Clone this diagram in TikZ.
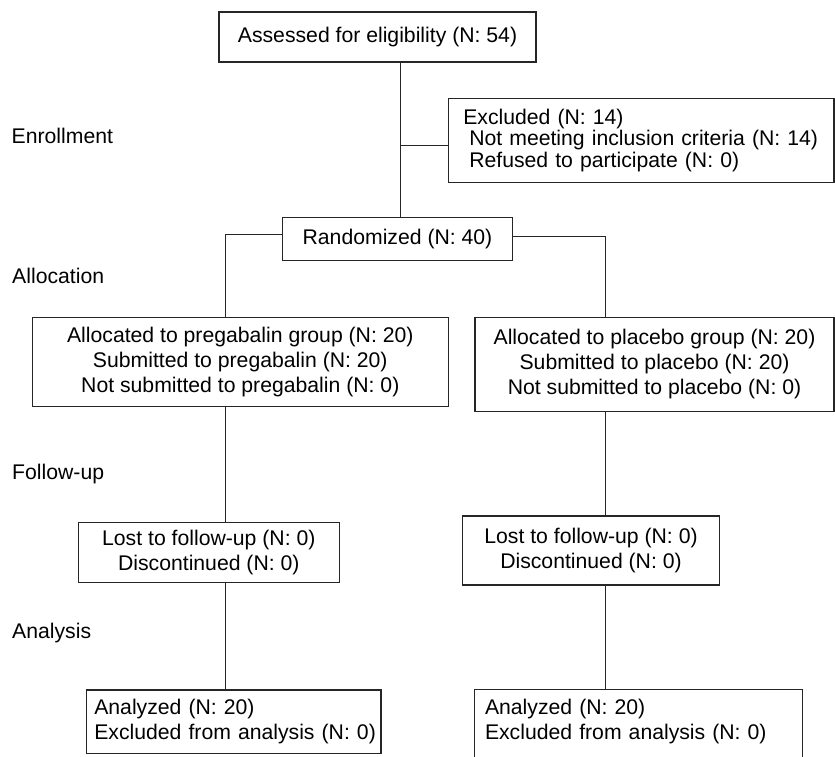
\documentclass[tikz,border=0pt]{standalone}
\usepackage{fontspec}
\setmainfont{Liberation Sans}
\begin{document}
\begin{tikzpicture}[x=1pt,y=-1pt,
  every node/.style={font=\fontsize{21.2}{25}\selectfont, text=black},
  cbox/.style={draw=black!85, line width=1.1pt, inner sep=0pt, align=center},
  lbox/.style={draw=black!85, line width=1.1pt, inner sep=0pt, align=left},
  stage/.style={anchor=west, inner sep=0pt},
  conn/.style={draw=black!85, line width=1pt}
]
\useasboundingbox (0,0) rectangle (835,756);

% stage labels
\node[stage] (enr) at (11.5,136) {Enrollment};
\node[stage] (alo) at (12,276) {Allocation};
\node[stage] (fol) at (12,474) {Follow-up};
\node[stage] (ana) at (12,632.7) {Analysis};

% boxes
\node[cbox, minimum width=317pt, minimum height=50pt] (assess) at (377.5,37) {Assessed for eligibility (N: 54)};
\node[lbox, font=\fontsize{21.2}{21.7}\selectfont, text width=385.7pt, minimum height=84.4pt] (excl) at (641.15,140.5)
  {\hspace*{15pt}Excluded (N: 14)\\\hspace*{21pt}Not meeting inclusion criteria (N: 14)\\\hspace*{21pt}Refused to participate (N: 0)};
\node[cbox, minimum width=230.4pt, minimum height=42.6pt] (rand) at (397.5,239) {Randomized (N: 40)};
\node[cbox, minimum width=416pt, minimum height=89.4pt] (allocL) at (240.3,362)
  {Allocated to pregabalin group (N: 20)\\Submitted to pregabalin (N: 20)\\Not submitted to pregabalin (N: 0)};
\node[cbox, minimum width=359pt, minimum height=94.4pt] (allocR) at (654.5,364.5)
  {Allocated to placebo group (N: 20)\\Submitted to placebo (N: 20)\\Not submitted to placebo (N: 0)};
\node[cbox, minimum width=261pt, minimum height=60pt] (lostL) at (208.8,552.3)
  {Lost to follow-up (N: 0)\\Discontinued (N: 0)};
\node[cbox, minimum width=256.6pt, minimum height=69pt] (lostR) at (591,550.5)
  {Lost to follow-up (N: 0)\\Discontinued (N: 0)};
\node[lbox, text width=294.3pt, minimum height=63.3pt] (anL) at (233.85,721.65)
  {\hspace*{7.6pt}Analyzed (N: 20)\\\hspace*{7.6pt}Excluded from analysis (N: 0)};
\node[lbox, draw=none, text width=326.7pt, minimum height=63.3pt] (anR) at (638.35,721.65)
  {\hspace*{10pt}Analyzed (N: 20)\\\hspace*{10pt}Excluded from analysis (N: 0)};
\draw[draw=black!85, line width=1.1pt] ([yshift=-15pt]anR.south west) -- (anR.north west) -- (anR.north east) -- ([yshift=-15pt]anR.south east);

% junction coordinates
\coordinate (trunk) at (400,0);
\coordinate (exJ) at (400,145);
\coordinate (jL) at (225.7,234.3);
\coordinate (jR) at (605.7,236.7);

% connectors
\draw[conn] (assess.south -| trunk) -- (rand.north -| trunk);
\draw[conn] (exJ) -- (exJ -| excl.west);
\draw[conn] (rand.west |- jL) -- (jL) -- (jL |- allocL.north);
\draw[conn] (rand.east |- jR) -- (jR) -- (jR |- allocR.north);
\draw[conn] (allocL.south -| jL) -- (lostL.north -| jL);
\draw[conn] (lostL.south -| jL) -- (anL.north -| jL);
\draw[conn] (allocR.south -| jR) -- (lostR.north -| jR);
\draw[conn] (lostR.south -| jR) -- (anR.north -| jR);
\end{tikzpicture}
\end{document}
